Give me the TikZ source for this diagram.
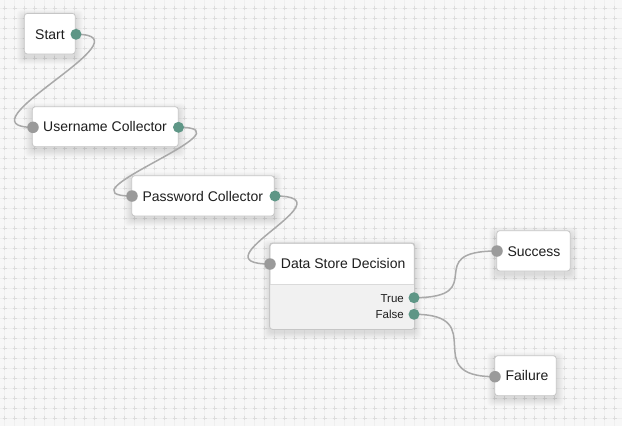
\documentclass[tikz,border=0pt]{standalone}
\usepackage{fontspec}
\setmainfont{Liberation Sans}
\usetikzlibrary{calc}
\definecolor{bgc}{HTML}{F7F7F7}
\definecolor{gridc}{HTML}{EFEFEF}
\definecolor{crossc}{HTML}{DCDCDC}
\definecolor{cardline}{HTML}{C6C6C6}
\definecolor{wirec}{HTML}{A9A9A9}
\definecolor{outc}{HTML}{5E9686}
\definecolor{inc}{HTML}{9A9A9A}
\definecolor{declow}{HTML}{F1F1F1}
\definecolor{divc}{HTML}{DADADA}
\definecolor{txt}{HTML}{1E1E1E}
\pgfdeclarelayer{gridl}
\pgfdeclarelayer{cards}
\pgfdeclarelayer{wires}
\pgfsetlayers{gridl,cards,wires,main}
\newcommand{\cardshadow}[1]{%
  \foreach \s in {1,...,7}{%
    \fill[black,opacity=0.016,rounded corners=4pt]
      ([xshift=-\s pt,yshift=-\s pt-3pt]#1.south west) rectangle
      ([xshift=\s pt,yshift=\s pt-4pt]#1.north east);}}
\begin{document}
\begin{tikzpicture}[x=1pt,y=-1pt,
  card/.style={draw=cardline, fill=white, rounded corners=3pt, line width=0.8pt, inner sep=0pt},
  wire/.style={draw=wirec, line width=1.5pt},
  outport/.style={circle, fill=outc, minimum size=11pt, inner sep=0pt},
  inport/.style={circle, fill=inc, minimum size=11.5pt, inner sep=0pt},
  lbl/.style={anchor=base west, inner sep=0pt, text=txt, font=\fontsize{14}{16}\selectfont},
  small/.style={anchor=base east, inner sep=0pt, text=txt, font=\fontsize{11.5}{13}\selectfont},
]
\useasboundingbox (0,0) rectangle (622,426);
\clip (0,0) rectangle (622,426);

% ---------- grid ----------
\begin{pgfonlayer}{gridl}
\fill[bgc] (0,0) rectangle (622,426);
\foreach \y in {8,18,...,428}{\draw[gridc,line width=0.5pt] (0,\y) -- (622,\y);}
\foreach \x in {4.7,14.7,...,625}{\draw[gridc,line width=0.5pt] (\x,0) -- (\x,426);}
\foreach \y in {8,18,...,428}{\draw[crossc,line width=0.9pt,dash pattern=on 4pt off 6pt] (-7.3,\y) -- (630,\y);}
\foreach \x in {4.7,14.7,...,625}{\draw[crossc,line width=0.9pt,dash pattern=on 4pt off 6pt] (\x,-4) -- (\x,432);}
\end{pgfonlayer}

% ---------- cards ----------
\begin{pgfonlayer}{cards}
\node[card, minimum width=51pt, minimum height=40.7pt] (start) at (49.8,33.7) {};
\node[card, minimum width=146pt, minimum height=40pt] (user) at (105.3,126.7) {};
\node[card, minimum width=142.6pt, minimum height=40.3pt] (pass) at (203,195.85) {};
\node[card, minimum width=144.3pt, minimum height=85.7pt] (dec) at (342.15,286.15) {};
\node[card, minimum width=73.6pt, minimum height=40.3pt] (succ) at (533.5,250.85) {};
\node[card, minimum width=61.6pt, minimum height=40pt] (fail) at (525.5,375.7) {};
\end{pgfonlayer}
\begin{pgfonlayer}{gridl}
\cardshadow{start}\cardshadow{user}\cardshadow{pass}\cardshadow{dec}\cardshadow{succ}\cardshadow{fail}
\end{pgfonlayer}
\begin{pgfonlayer}{cards}
\begin{scope}
\clip[rounded corners=3pt] (dec.south west) rectangle (dec.north east);
\fill[declow] (270,284) rectangle (414.3,329);
\end{scope}
\draw[divc,line width=0.8pt] (270,284) -- (414.3,284);
\draw[cardline,line width=0.8pt,rounded corners=3pt] (dec.south west) rectangle (dec.north east);
\end{pgfonlayer}

% ---------- labels ----------
\node[lbl] (tStart) at (35,39) {Start};
\node[lbl] (tUser) at (43,131.7) {Username Collector};
\node[lbl] (tPass) at (142.3,201) {Password Collector};
\node[lbl] (tDec) at (280.7,268.7) {Data Store Decision};
\node[small] (tTrue) at (404,302) {True};
\node[small] (tFalse) at (404,318.3) {False};
\node[lbl] (tSucc) at (507.3,256) {Success};
\node[lbl] (tFail) at (505.3,380.7) {Failure};

% ---------- ports ----------
\node[outport] (startOut) at (76,34.3) {};
\node[inport] (userIn) at (33,127.3) {};
\node[outport] (userOut) at (178.5,127.3) {};
\node[inport] (passIn) at (132,196) {};
\node[outport] (passOut) at (275,196) {};
\node[inport] (decIn) at (270,264) {};
\node[outport] (decTrue) at (414,297.7) {};
\node[outport] (decFalse) at (414,314.3) {};
\node[inport] (succIn) at (497,251) {};
\node[inport] (failIn) at (495,376.7) {};

% ---------- wires ----------
\begin{pgfonlayer}{wires}
\draw[wire] (startOut.center) .. controls +(78,0) and +(-78,0) .. (userIn.center);
\draw[wire] (userOut.center) .. controls +(78,0) and +(-78,0) .. (passIn.center);
\draw[wire] (passOut.center) .. controls +(78,0) and +(-78,0) .. (decIn.center);
\draw[wire] (decTrue.center) .. controls +(78,0) and +(-78,0) .. (succIn.center);
\draw[wire] (decFalse.center) .. controls +(78,0) and +(-78,0) .. (failIn.center);
\end{pgfonlayer}
\end{tikzpicture}
\end{document}
